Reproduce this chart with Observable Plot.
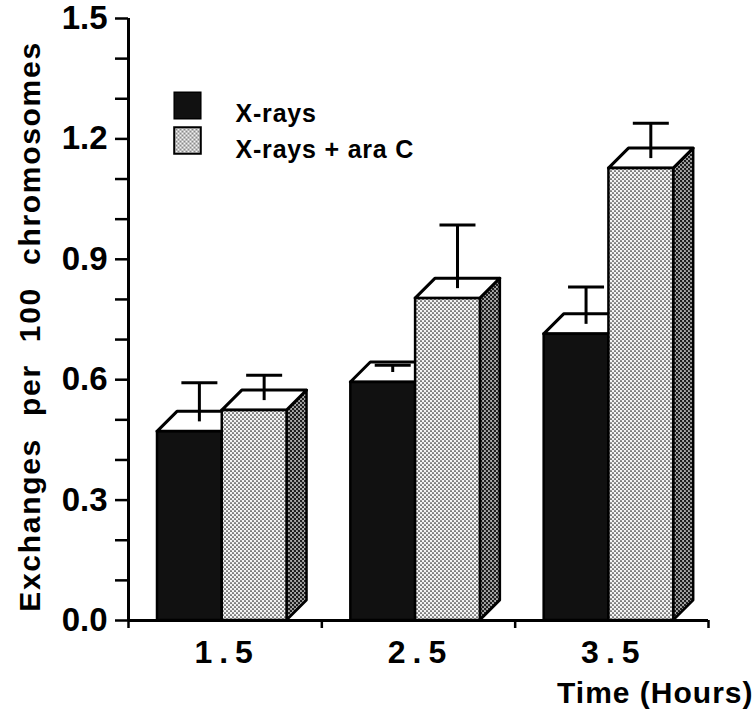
<!DOCTYPE html>
<html><head><meta charset="utf-8">
<script src="https://cdn.jsdelivr.net/npm/d3@7"></script>
<script src="https://cdn.jsdelivr.net/npm/@observablehq/plot@0.6"></script>
<style>
body{margin:0;background:#fff;}
g[aria-description="hour labels"] text{letter-spacing:7px;}
g[aria-description="y title"] text{letter-spacing:1.7px;word-spacing:12px;}
g[aria-description="legend labels"] text{letter-spacing:0.8px;}
g[aria-description="x title"] text{letter-spacing:1px;}
</style></head><body>
<svg width="0" height="0" style="position:absolute">
<defs>
<pattern id="stip" width="4" height="4" patternUnits="userSpaceOnUse">
<rect width="4" height="4" fill="#f4f4f4"/>
<circle cx="1" cy="1" r="0.85" fill="#222"/><circle cx="3" cy="3" r="0.85" fill="#222"/>
</pattern>
<pattern id="stipDark" width="4" height="4" patternUnits="userSpaceOnUse">
<rect width="4" height="4" fill="#aaa"/>
<circle cx="1" cy="1" r="1.25" fill="#1a1a1a"/><circle cx="3" cy="3" r="1.25" fill="#1a1a1a"/>
</pattern>
</defs></svg>
<div id="chart"></div>
<script>
// ---- data ----
const hours = [1.5, 2.5, 3.5];
const hourLabels = ["1.5", "2.5", "3.5"];
const seriesNames = ["X-rays", "X-rays + ara C"];
const xrays = [0.47, 0.593, 0.713];
const xraysUpper = [0.591, 0.635, 0.83];
const araC = [0.523, 0.802, 1.126];
const araCUpper = [0.61, 0.984, 1.238];
const yTicks = [0, 0.3, 0.6, 0.9, 1.2, 1.5];
const yMinorTicks = [0.1, 0.2, 0.4, 0.5, 0.7, 0.8, 1.0, 1.1, 1.3, 1.4];
const xTicks = [1, 2, 3, 4];
const yTitle = "Exchanges per 100 chromosomes";
const xTitle = "Time (Hours)";

// ---- layout constants ----
const D = 20;          // 3-D depth in px
const W = 0.335;       // bar width (hours)
const OFF = -0.015;    // pair offset (hours)
const span = (t, s) => s === 0 ? [t + OFF - W, t + OFF] : [t + OFF, t + OFF + W];

function faces(vals, s, sideFill) {
  return (index, scales) => {
    const x = scales.x, y = scales.y;
    const g = d3.create("svg:g");
    vals.forEach((v, i) => {
      const [a, b] = span(hours[i], s);
      const xa = x(a), xb = x(b), yv = y(v), y0 = y(0);
      g.append("path")
        .attr("d", `M${xb},${y0}L${xb},${yv}L${xb + D},${yv - D}L${xb + D},${y0 - D}Z`)
        .attr("fill", sideFill).attr("stroke", "#000").attr("stroke-width", 2.5).attr("stroke-linejoin", "round");
      g.append("path")
        .attr("d", `M${xa},${yv}L${xb},${yv}L${xb + D},${yv - D}L${xa + D},${yv - D}Z`)
        .attr("fill", "#fff").attr("stroke", "#000").attr("stroke-width", 3).attr("stroke-linejoin", "round");
    });
    return g.node();
  };
}

function errorBars(index, scales) {
  const x = scales.x, y = scales.y;
  const g = d3.create("svg:g").attr("stroke", "#000").attr("stroke-width", 3);
  [[xrays, xraysUpper], [araC, araCUpper]].forEach(([vals, ups], s) => {
    vals.forEach((v, i) => {
      const [a, b] = span(hours[i], s);
      const xc = x((a + b) / 2) + D / 2;
      g.append("line").attr("x1", xc).attr("x2", xc).attr("y1", y(v) - D / 2).attr("y2", y(ups[i]));
      g.append("line").attr("x1", xc - 18).attr("x2", xc + 18).attr("y1", y(ups[i])).attr("y2", y(ups[i]));
    });
  });
  return g.node();
}

const chart = Plot.plot({
  width: 756,
  height: 720,
  marginLeft: 128,
  marginRight: 48,
  marginTop: 18,
  marginBottom: 100,
  style: {fontFamily: "'Liberation Sans', Arial, sans-serif", fontWeight: "bold", background: "#fff", color: "#000"},
  x: {domain: [1, 4], axis: null},
  y: {domain: [0, 1.5], axis: null},
  marks: [
    // X-rays bars
    faces(xrays, 0, "#111"),
    Plot.rect(hours, {x1: t => span(t, 0)[0], x2: t => span(t, 0)[1], y1: () => 0, y2: (t, i) => xrays[i],
      fill: "#111", stroke: "#000", strokeWidth: 2.5}),
    // X-rays + ara C bars
    faces(araC, 1, "url(#stipDark)"),
    Plot.rect(hours, {x1: t => span(t, 1)[0], x2: t => span(t, 1)[1], y1: () => 0, y2: (t, i) => araC[i],
      fill: "url(#stip)", stroke: "#000", strokeWidth: 2.5}),
    errorBars,
    // axes
    Plot.axisY(yTicks, {tickSize: 13, tickPadding: 8, tickFormat: d3.format(".1f"), fontSize: 33, fontWeight: "bold", strokeWidth: 2.5, label: null}),
    Plot.axisY(yMinorTicks, {tickSize: 13, tickFormat: () => "", strokeWidth: 2.5, label: null}),
    Plot.axisX(xTicks, {tickSize: 8, tickFormat: () => "", strokeWidth: 2.5, label: null}),
    Plot.ruleX([1], {strokeWidth: 3}),
    Plot.ruleY([0], {strokeWidth: 3}),
    Plot.text(hours, {x: d => d, text: (d, i) => hourLabels[i], frameAnchor: "bottom", dx: 2, dy: 42, fontSize: 32, ariaDescription: "hour labels"}),
    Plot.text([xTitle], {frameAnchor: "bottom-right", textAnchor: "end", dx: 45, dy: 82, fontSize: 30, ariaDescription: "x title"}),
    Plot.text([yTitle], {frameAnchor: "left", textAnchor: "middle", rotate: -90, dx: -98, dy: 7, fontSize: 30, ariaDescription: "y title"}),
    // legend
    Plot.dot([seriesNames[0]], {frameAnchor: "top-left", dx: 59, dy: 87, r: 15, symbol: "square", fill: "#111", stroke: "#000", strokeWidth: 1.5}),
    Plot.dot([seriesNames[1]], {frameAnchor: "top-left", dx: 59, dy: 122, r: 15, symbol: "square", fill: "url(#stip)", stroke: "#000", strokeWidth: 2}),
    Plot.text([seriesNames[0]], {frameAnchor: "top-left", textAnchor: "start", dx: 107, dy: 86, fontSize: 25, ariaDescription: "legend labels"}),
    Plot.text([seriesNames[1]], {frameAnchor: "top-left", textAnchor: "start", dx: 107, dy: 122, fontSize: 25, ariaDescription: "legend labels"})
  ]
});
document.getElementById("chart").append(chart);
</script>
</body></html>
